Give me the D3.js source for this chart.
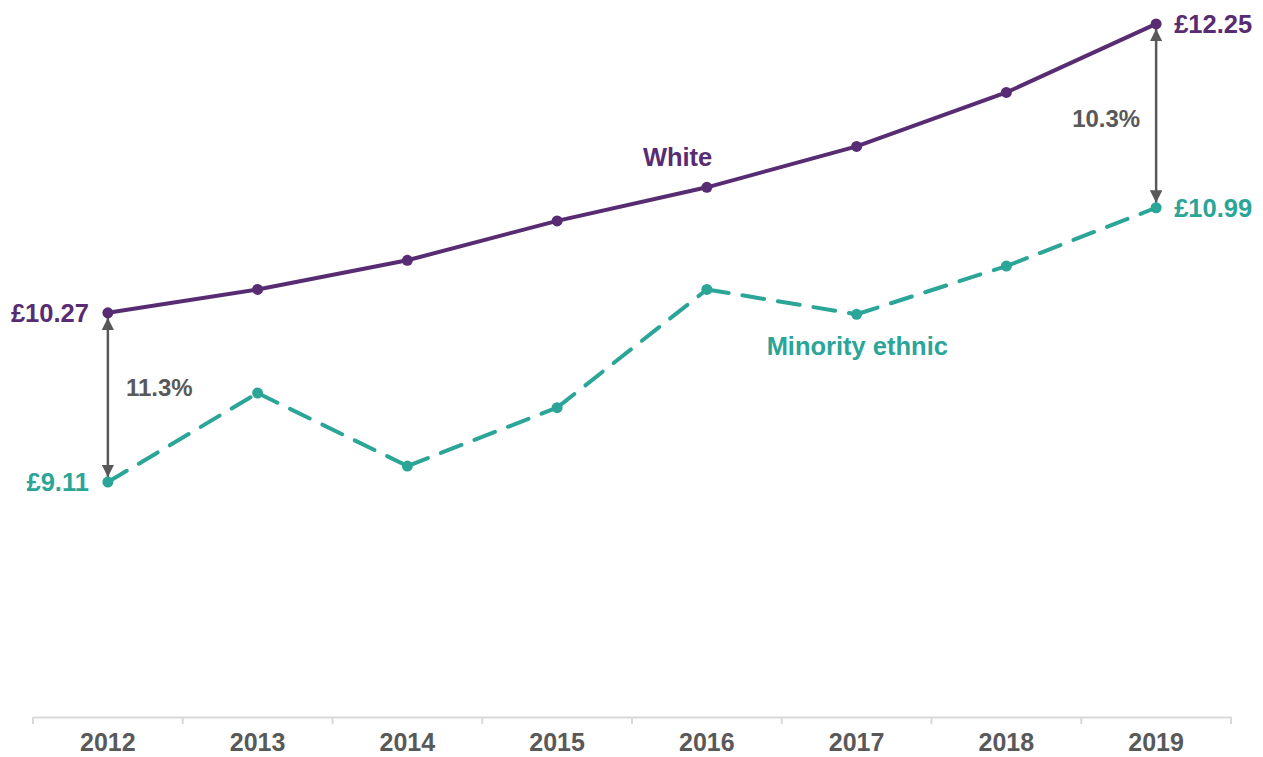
<!DOCTYPE html>
<html>
<head>
<meta charset="utf-8">
<script src="https://cdn.jsdelivr.net/npm/d3@7"></script>
<style>
  body { margin: 0; background: #fff; }
  text { font-family: "Liberation Sans", Arial, sans-serif; font-weight: bold; }
</style>
</head>
<body>
<div id="chart"></div>
<script>
/* Hourly pay, White vs Minority ethnic, 2012-2019 */

const years = ["2012", "2013", "2014", "2015", "2016", "2017", "2018", "2019"];
const white = [10.27, 10.43, 10.63, 10.90, 11.13, 11.41, 11.78, 12.25];
const minority = [9.11, 9.72, 9.22, 9.62, 10.43, 10.26, 10.59, 10.99];
const gapLabels = ["11.3%", "10.3%"];   // first and last year

const width = 1263,
      height = 757,
      margin = ({top: 2, right: 32, bottom: 40, left: 33});

const purple = "#582c73",
      teal = "#2aa597",
      grey = "#595959";

let svg = d3.select("#chart")
    .append("svg")
    .attr("width", width)
    .attr("height", height);

let x = d3.scaleBand()
    .domain(years)
    .range([margin.left, width - margin.right]);

let y = d3.scaleLinear()
    .domain([7.5, 12.4])
    .range([height - margin.bottom, margin.top]);

const cx = d => x(d) + x.bandwidth() / 2;

// x axis
const xAxis = g => g
    .attr("transform", `translate(0,${height - margin.bottom})`)
    .call(d3.axisBottom(x).tickSize(0).tickPadding(16))
    .call(g => g.select(".domain").attr("stroke", "#d9d9d9").attr("stroke-width", 2))
    .call(g => g.selectAll(".tick text")
        .attr("font-size", 25)
        .attr("fill", grey)
        .attr("font-family", "Liberation Sans, Arial, sans-serif")
        .attr("font-weight", "bold"));

svg.append("g").call(xAxis);

// boundary ticks between bands
svg.append("g")
    .selectAll("line")
    .data(years.concat(["end"]))
    .join("line")
    .attr("x1", (d, i) => margin.left + i * x.bandwidth())
    .attr("x2", (d, i) => margin.left + i * x.bandwidth())
    .attr("y1", height - margin.bottom)
    .attr("y2", height - margin.bottom + 7)
    .attr("stroke", "#d9d9d9")
    .attr("stroke-width", 2);

// arrowheads
const defs = svg.append("defs");
defs.append("marker")
    .attr("id", "arrow")
    .attr("viewBox", "0 0 10 10")
    .attr("refX", 10)
    .attr("refY", 5)
    .attr("markerWidth", 5)
    .attr("markerHeight", 5)
    .attr("markerUnits", "strokeWidth")
    .attr("orient", "auto-start-reverse")
    .append("path")
    .attr("d", "M0,0L10,5L0,10z")
    .attr("fill", grey);

// gap arrows at first and last year
const ends = [0, years.length - 1];
svg.append("g")
    .selectAll("line")
    .data(ends)
    .join("line")
    .attr("x1", i => cx(years[i]))
    .attr("x2", i => cx(years[i]))
    .attr("y1", i => y(white[i]) + 5)
    .attr("y2", i => y(minority[i]) - 5)
    .attr("stroke", grey)
    .attr("stroke-width", 2.5)
    .attr("marker-start", "url(#arrow)")
    .attr("marker-end", "url(#arrow)");

svg.append("g")
    .selectAll("text")
    .data(ends)
    .join("text")
    .attr("x", (i, k) => k === 0 ? cx(years[i]) + 18 : cx(years[i]) - 84)
    .attr("y", (i, k) => (y(white[i]) + y(minority[i])) / 2 + (k === 0 ? -1 : 11))
    .attr("font-size", 24)
    .attr("fill", grey)
    .text((i, k) => gapLabels[k]);

// white line
let line = d3.line()
    .x((d, i) => cx(years[i]))
    .y(d => y(d));

svg.append("path")
    .datum(white)
    .attr("fill", "none")
    .attr("stroke", purple)
    .attr("stroke-width", 4)
    .attr("d", line);

// minority line: each segment restarts the dash at the point
svg.append("g")
    .selectAll("line")
    .data(minority.slice(1))
    .join("line")
    .attr("x1", (d, i) => cx(years[i]))
    .attr("y1", (d, i) => y(minority[i]))
    .attr("x2", (d, i) => cx(years[i + 1]))
    .attr("y2", d => y(d))
    .attr("stroke", teal)
    .attr("stroke-width", 4)
    .attr("stroke-dasharray", "22,14")
    .attr("stroke-linecap", "round");

// markers
svg.append("g")
    .selectAll("circle")
    .data(white)
    .join("circle")
    .attr("cx", (d, i) => cx(years[i]))
    .attr("cy", d => y(d))
    .attr("r", 5.5)
    .attr("fill", purple);

svg.append("g")
    .selectAll("circle")
    .data(minority)
    .join("circle")
    .attr("cx", (d, i) => cx(years[i]))
    .attr("cy", d => y(d))
    .attr("r", 5.5)
    .attr("fill", teal);

// end value labels
const fmt = d => "£" + d3.format(".2f")(d);
const last = years.length - 1;

svg.append("text")
    .attr("x", cx(years[0]) - 19).attr("y", y(white[0]) + 9)
    .attr("text-anchor", "end").attr("font-size", 25.5).attr("fill", purple)
    .text(fmt(white[0]));

svg.append("text")
    .attr("x", cx(years[0]) - 19).attr("y", y(minority[0]) + 9)
    .attr("text-anchor", "end").attr("font-size", 25.5).attr("fill", teal)
    .text(fmt(minority[0]));

svg.append("text")
    .attr("x", cx(years[last]) + 18).attr("y", y(white[last]) + 9)
    .attr("font-size", 25.5).attr("fill", purple)
    .text(fmt(white[last]));

svg.append("text")
    .attr("x", cx(years[last]) + 18).attr("y", y(minority[last]) + 9)
    .attr("font-size", 25.5).attr("fill", teal)
    .text(fmt(minority[last]));

// series names
svg.append("text")
    .attr("x", cx("2016") - 64).attr("y", y(white[4]) - 21)
    .attr("font-size", 25.5).attr("fill", purple)
    .text("White");

svg.append("text")
    .attr("x", cx("2017") - 90).attr("y", y(minority[5]) + 41)
    .attr("font-size", 25.5).attr("fill", teal)
    .text("Minority ethnic");
</script>
</body>
</html>
